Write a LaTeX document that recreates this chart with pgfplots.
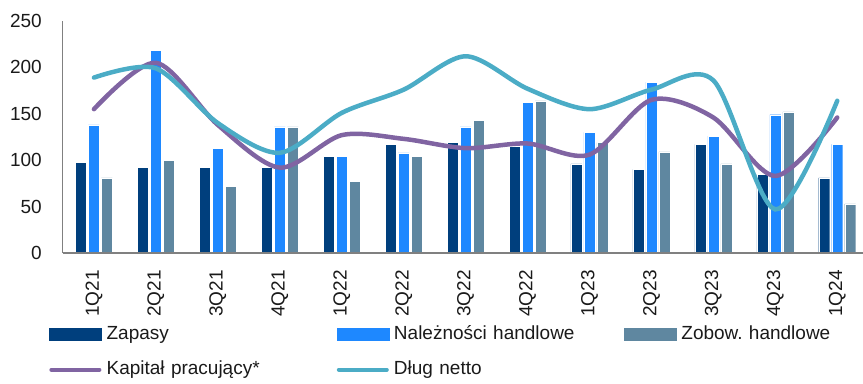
\documentclass[border=0pt]{standalone}
\usepackage{fontspec}
\setmainfont{Liberation Sans}
\usepackage{pgfplots}
\pgfplotsset{compat=1.18}
\definecolor{cZap}{HTML}{003F7D}
\definecolor{cNal}{HTML}{1E88FF}
\definecolor{cZob}{HTML}{5F87A0}
\definecolor{cKap}{HTML}{8064A2}
\definecolor{cDlug}{HTML}{4BACC6}
\definecolor{ctext}{HTML}{1A1A1A}
\newcommand{\fs}{\fontsize{19}{22}\selectfont}
\frenchspacing
\begin{document}
\begin{tikzpicture}
\begin{axis}[
  name=ax,
  scale only axis, width=800pt, height=232pt,
  xmin=-0.5, xmax=12.416, ymin=0, ymax=250,
  axis x line*=bottom, axis y line*=left,
  axis on top,
  x axis line style={draw=gray, line width=1.5pt},
  y axis line style={draw=gray, line width=1pt},
  major tick length=0pt,
  xtick={0,...,12},
  xticklabels={1Q21,2Q21,3Q21,4Q21,1Q22,2Q22,3Q22,4Q22,1Q23,2Q23,3Q23,4Q23,1Q24},
  ytick={0,50,...,250},
  tick label style={font=\fs, text=ctext},
  /pgf/number format/assume math mode=true,
  xticklabel style={rotate=90, anchor=east, inner sep=0pt},
  xticklabel shift=17pt,
  yticklabel style={anchor=east, inner sep=0pt},
  yticklabel shift=21pt,
  legend columns=3,
  legend cell align=left,
  legend style={at={(-0.0175,-0.310)}, anchor=north west, draw=none, fill=none,
    inner sep=0pt, font=\fs, text=ctext,
    nodes={text width=185pt, inner xsep=0pt, inner ysep=0pt, text height=14pt, text depth=5pt},
    row sep=16pt,
    /tikz/every odd column/.append style={column sep=5pt},
    /tikz/every even column/.append style={column sep=45pt}},
  bar width=11pt,
]
\addplot[ybar, bar shift=-13pt, fill=cZap, draw=white, line width=0.4pt,
  legend image code/.code={\fill[cZap] (0pt,-6pt) rectangle (52pt,6pt);}]
  coordinates {(0,98) (1,92) (2,92) (3,92) (4,104) (5,117) (6,119) (7,115) (8,96) (9,90) (10,117) (11,85) (12,81)};
\addlegendentry{Zapasy}
\addplot[ybar, bar shift=0pt, fill=cNal, draw=white, line width=0.4pt,
  legend image code/.code={\fill[cNal] (0pt,-6pt) rectangle (52pt,6pt);}]
  coordinates {(0,138) (1,218) (2,113) (3,136) (4,104) (5,108) (6,136) (7,162) (8,130) (9,184) (10,126) (11,149) (12,117)};
\addlegendentry{Należności handlowe}
\addplot[ybar, bar shift=13pt, fill=cZob, draw=white, line width=0.4pt,
  legend image code/.code={\fill[cZob] (0pt,-6pt) rectangle (52pt,6pt);}]
  coordinates {(0,81) (1,100) (2,72) (3,136) (4,77) (5,104) (6,143) (7,164) (8,119) (9,109) (10,96) (11,152) (12,53)};
\addlegendentry{Zobow. handlowe}
\addplot[cKap, line width=4.5pt, smooth, mark=none, line cap=round,
  legend image code/.code={\draw[cKap, line width=4pt, line cap=round] (2pt,0pt) -- (50pt,0pt);}]
  coordinates {(0,155) (1,205) (2,138) (3,92) (4,127) (5,123) (6,113) (7,118) (8,106) (9,165) (10,146) (11,83) (12,146)};
\addlegendentry{Kapitał pracujący*}
\addplot[cDlug, line width=4.5pt, smooth, mark=none, line cap=round,
  legend image code/.code={\draw[cDlug, line width=4pt, line cap=round] (2pt,0pt) -- (50pt,0pt);}]
  coordinates {(0,189) (1,199) (2,140) (3,108) (4,151) (5,176) (6,212) (7,177) (8,155) (9,176) (10,186) (11,47) (12,164)};
\addlegendentry{Dług netto}
\end{axis}
\pgfresetboundingbox
\path ([shift={(-63pt,-130pt)}]ax.south west) rectangle ([shift={(0pt,21pt)}]ax.north east);
\end{tikzpicture}
\end{document}
